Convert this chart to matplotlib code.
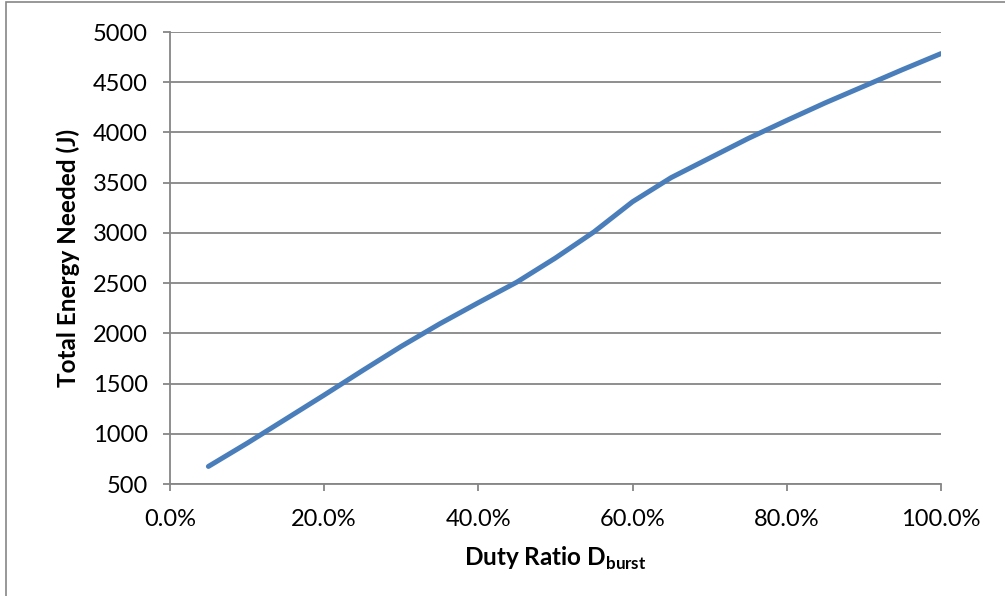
import matplotlib
matplotlib.use("Agg")
import matplotlib.pyplot as plt
from matplotlib.patches import Rectangle
from matplotlib.ticker import FuncFormatter

# duty ratio (%) and total energy (J)
duty_ratio = [5, 10, 15, 20, 25, 30, 35, 40, 45, 50,
              55, 60, 65, 70, 75, 80, 85, 90, 95, 100]
energy = [675, 905, 1145, 1385, 1630, 1870, 2095, 2305, 2510, 2750,
          3010, 3310, 3550, 3745, 3940, 4120, 4295, 4460, 4625, 4785]

x_ticks = [0, 20, 40, 60, 80, 100]
y_ticks = [500, 1000, 1500, 2000, 2500, 3000, 3500, 4000, 4500, 5000]

plt.rcParams['font.family'] = ['Lato', 'DejaVu Sans']
plt.rcParams['mathtext.fontset'] = 'custom'
plt.rcParams['mathtext.bf'] = 'Lato:bold'
plt.rcParams['mathtext.rm'] = 'Lato'

GRID = '#868686'
LINE = '#4A7EBB'

fig = plt.figure(figsize=(10.05, 5.96), dpi=100)
ax = fig.add_axes([0.169, 0.1879, 0.7673, 0.7584])

ax.plot(duty_ratio, energy, color=LINE, linewidth=3.6,
        solid_capstyle='round', solid_joinstyle='round', zorder=3)

ax.set_xlim(0, 100)
ax.set_ylim(500, 5000)
ax.set_xticks(x_ticks)
ax.set_yticks(y_ticks)
ax.xaxis.set_major_formatter(FuncFormatter(lambda v, p: f"{v:.1f}%"))
ax.yaxis.grid(True, color=GRID, linewidth=1.3)
ax.set_axisbelow(True)

for s in ['top', 'right']:
    ax.spines[s].set_visible(False)
for s in ['left', 'bottom']:
    ax.spines[s].set_color(GRID)
    ax.spines[s].set_linewidth(1.3)

ax.tick_params(axis='both', direction='out', length=5, width=1.3,
               color=GRID, labelsize=17, labelcolor='black')
ax.tick_params(axis='x', pad=13)
ax.tick_params(axis='y', pad=11)

ax.set_ylabel('Total Energy Needed (J)', fontsize=17.5, fontweight='bold')
ax.yaxis.set_label_coords(-0.117, 0.5)
ax.set_xlabel(r'Duty Ratio D$_{\mathbf{burst}}$', fontsize=17.5, fontweight='bold')
ax.xaxis.set_label_coords(0.5, -0.135)

# thin frame of the chart area
fig.patches.append(Rectangle((6 / 1005, -0.1), 1.2, 1.1 - 2.5 / 596,
                             transform=fig.transFigure, fill=False,
                             edgecolor=GRID, linewidth=1.2))

fig.savefig('out.png', dpi=100)
